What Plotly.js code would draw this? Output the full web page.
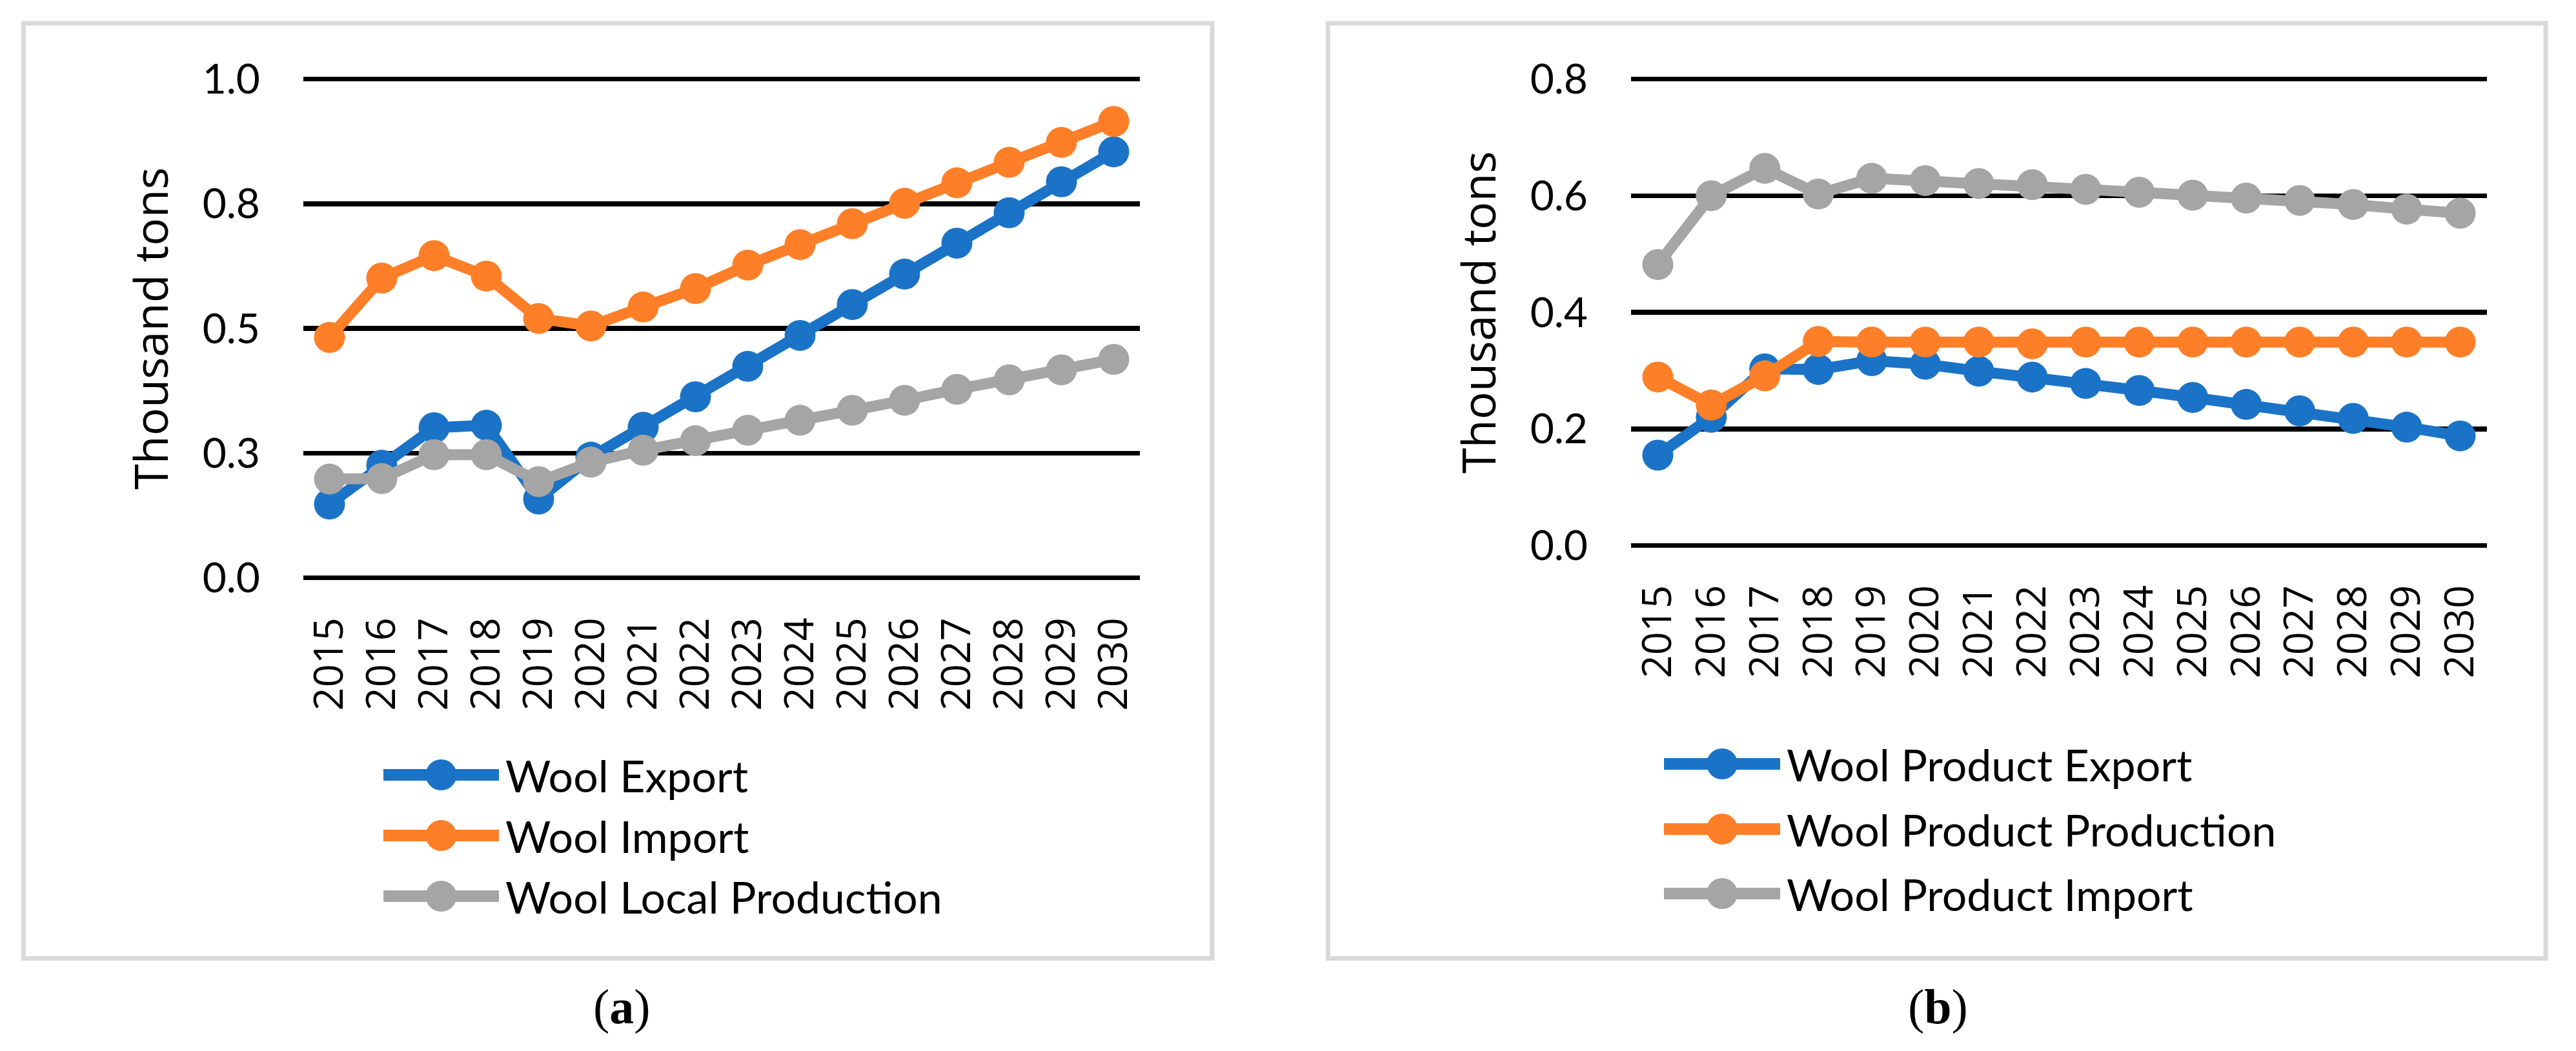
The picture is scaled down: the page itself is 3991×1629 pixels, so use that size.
<!DOCTYPE html>
<html>
<head>
<meta charset="utf-8">
<script src="https://cdn.plot.ly/plotly-3.0.1.min.js"></script>
<style>
html,body{margin:0;padding:0;background:#ffffff;overflow:hidden}
#chart{width:3991px;height:1629px}
</style>
</head>
<body>
<div id="chart"></div>
<script>
// ---------- data ----------
const years = ['2015','2016','2017','2018','2019','2020','2021','2022','2023','2024','2025','2026','2027','2028','2029','2030'];

// panel (a)
const woolExport          = [0.148, 0.226, 0.301, 0.306, 0.158, 0.242, 0.302, 0.363, 0.424, 0.486, 0.548, 0.609, 0.671, 0.732, 0.794, 0.854];
const woolImport          = [0.482, 0.601, 0.646, 0.605, 0.520, 0.505, 0.543, 0.580, 0.627, 0.668, 0.710, 0.751, 0.792, 0.833, 0.873, 0.915];
const woolLocalProduction = [0.198, 0.199, 0.247, 0.247, 0.193, 0.232, 0.256, 0.275, 0.296, 0.316, 0.336, 0.356, 0.378, 0.397, 0.417, 0.438];

// panel (b)
const productExport     = [0.155, 0.220, 0.303, 0.302, 0.317, 0.311, 0.299, 0.289, 0.278, 0.266, 0.254, 0.242, 0.231, 0.218, 0.203, 0.188];
const productProduction = [0.289, 0.241, 0.291, 0.350, 0.349, 0.349, 0.349, 0.346, 0.349, 0.349, 0.349, 0.349, 0.349, 0.349, 0.349, 0.349];
const productImport     = [0.482, 0.600, 0.647, 0.603, 0.630, 0.626, 0.621, 0.619, 0.611, 0.606, 0.601, 0.596, 0.592, 0.585, 0.577, 0.570];

const namesA = ['Wool Export', 'Wool Import', 'Wool Local Production'];
const namesB = ['Wool Product Export', 'Wool Product Production', 'Wool Product Import'];

const yTickValsA = [0, 0.25, 0.5, 0.75, 1.0];
const yTickTextA = ['0.0', '0.3', '0.5', '0.8', '1.0'];
const yTickValsB = [0, 0.2, 0.4, 0.6, 0.8];
const yTickTextB = ['0.0', '0.2', '0.4', '0.6', '0.8'];

const yTitle = 'Thousand tons';
const captions = ['a', 'b'];

// ---------- style ----------
const W = 3991, H = 1629;
const colors = ['#1a73c7', '#fe7f27', '#a5a5a5'];
const px = v => v / W;            // x pixel -> paper
const py = v => 1 - v / H;        // y pixel (from top) -> paper
const LINE_W = 17, MARK = 48;
const tickFont = {family: 'Lato, Calibri, sans-serif', size: 64, color: '#000000'};
const xTickFont = {family: '"Open Sans", sans-serif', size: 63, color: '#000000'};
const legendFont = {family: 'Lato, Calibri, sans-serif', size: 68, color: '#000000'};
const titleFont = {family: '"Open Sans", sans-serif', size: 72, color: '#000000'};
const capFont = {family: '"Liberation Serif", "DejaVu Serif", serif', size: 76, color: '#000000'};

function mkTrace(y, name, color, xa, ya) {
  return {
    type: 'scatter', mode: 'lines+markers', x: years, y: y, name: name,
    xaxis: xa, yaxis: ya,
    line: {color: color, width: LINE_W},
    marker: {color: color, size: MARK},
    cliponaxis: false, hoverinfo: 'skip'
  };
}

const seriesA = [woolExport, woolImport, woolLocalProduction];
const seriesB = [productExport, productProduction, productImport];
const traces = [];
seriesA.forEach((s, i) => traces.push(mkTrace(s, namesA[i], colors[i], 'x', 'y')));
seriesB.forEach((s, i) => traces.push(mkTrace(s, namesB[i], colors[i], 'x2', 'y2')));

function xAxis(domain, anchor) {
  return {
    domain: domain, anchor: anchor, type: 'category',
    range: [-0.5, years.length - 0.5],
    showgrid: false, zeroline: false, showline: false,
    ticks: '', tickangle: -90, tickfont: xTickFont,
    ticklabelstandoff: 42, automargin: false, fixedrange: true
  };
}
// y-axis: pad the value range a little (and the domain by the same pixels)
// so the gridlines at the ends of the range are drawn.
const PADPX = 6;
function yAxis(P, anchor, lo, hi, vals, text) {
  const perPx = (hi - lo) / (P.yBot - P.yTop);
  const pad = PADPX * perPx;
  return {
    domain: [py(P.yBot + PADPX), py(P.yTop - PADPX)], anchor: anchor, range: [lo - pad, hi + pad],
    tickmode: 'array', tickvals: vals, ticktext: text,
    showgrid: true, gridcolor: '#000000', gridwidth: 7.5,
    zeroline: false, showline: false, ticks: '',
    tickfont: tickFont, ticklabelstandoff: 66,
    automargin: false, fixedrange: true
  };
}

// plot areas (pixels)
const A = {x0: 470, x1: 1766, yTop: 122.5, yBot: 895.7};
const B = {x0: 2527, x1: 3853, yTop: 122.7, yBot: 845.5};

const shapes = [];
const annotations = [];

// panel frames
[[36.5, 36, 1878, 1485.5], [2057.5, 36, 3944, 1485.5]].forEach(r => {
  shapes.push({type: 'rect', xref: 'paper', yref: 'paper',
    x0: px(r[0]), x1: px(r[2]), y0: py(r[3]), y1: py(r[1]),
    line: {color: '#d9d9d9', width: 7}, fillcolor: 'rgba(0,0,0,0)', layer: 'below'});
});

// manual legends (Excel-style long symbols)
function legend(names, lx0, lx1, rows, tx) {
  names.forEach((n, i) => {
    const c = colors[i], y = py(rows[i]);
    shapes.push({type: 'line', xref: 'paper', yref: 'paper', x0: px(lx0), x1: px(lx1), y0: y, y1: y,
      line: {color: c, width: 18}});
    shapes.push({type: 'circle', xref: 'paper', yref: 'paper',
      xsizemode: 'pixel', ysizemode: 'pixel', xanchor: px((lx0 + lx1) / 2), yanchor: y,
      x0: -MARK / 2, x1: MARK / 2, y0: -MARK / 2, y1: MARK / 2,
      fillcolor: c, line: {width: 0}});
    annotations.push({xref: 'paper', yref: 'paper', x: px(tx), y: y, text: n,
      showarrow: false, xanchor: 'left', yanchor: 'middle', font: legendFont});
  });
}
legend(namesA, 594, 773, [1201, 1295, 1389], 781);
legend(namesB, 2578, 2758, [1184, 1285, 1385], 2766);

// y-axis titles
annotations.push({xref: 'paper', yref: 'paper', x: px(232), y: py((A.yTop + A.yBot) / 2),
  text: yTitle, textangle: -90, showarrow: false, xanchor: 'center', yanchor: 'middle', font: titleFont});
annotations.push({xref: 'paper', yref: 'paper', x: px(2289), y: py((B.yTop + B.yBot) / 2),
  text: yTitle, textangle: -90, showarrow: false, xanchor: 'center', yanchor: 'middle', font: titleFont});

// captions
annotations.push({xref: 'paper', yref: 'paper', x: px(963), y: py(1560), text: '(<b>' + captions[0] + '</b>)',
  showarrow: false, xanchor: 'center', yanchor: 'middle', font: capFont});
annotations.push({xref: 'paper', yref: 'paper', x: px(3002), y: py(1560), text: '(<b>' + captions[1] + '</b>)',
  showarrow: false, xanchor: 'center', yanchor: 'middle', font: capFont});

const layout = {
  width: W, height: H,
  margin: {l: 0, r: 0, t: 0, b: 0, pad: 0},
  paper_bgcolor: '#ffffff', plot_bgcolor: 'rgba(0,0,0,0)',
  showlegend: false,
  xaxis: xAxis([px(A.x0), px(A.x1)], 'y'),
  yaxis: yAxis(A, 'x', 0, 1, yTickValsA, yTickTextA),
  xaxis2: xAxis([px(B.x0), px(B.x1)], 'y2'),
  yaxis2: yAxis(B, 'x2', 0, 0.8, yTickValsB, yTickTextB),
  shapes: shapes,
  annotations: annotations
};

Plotly.newPlot('chart', traces, layout, {displayModeBar: false, staticPlot: true, responsive: false});
</script>
</body>
</html>
